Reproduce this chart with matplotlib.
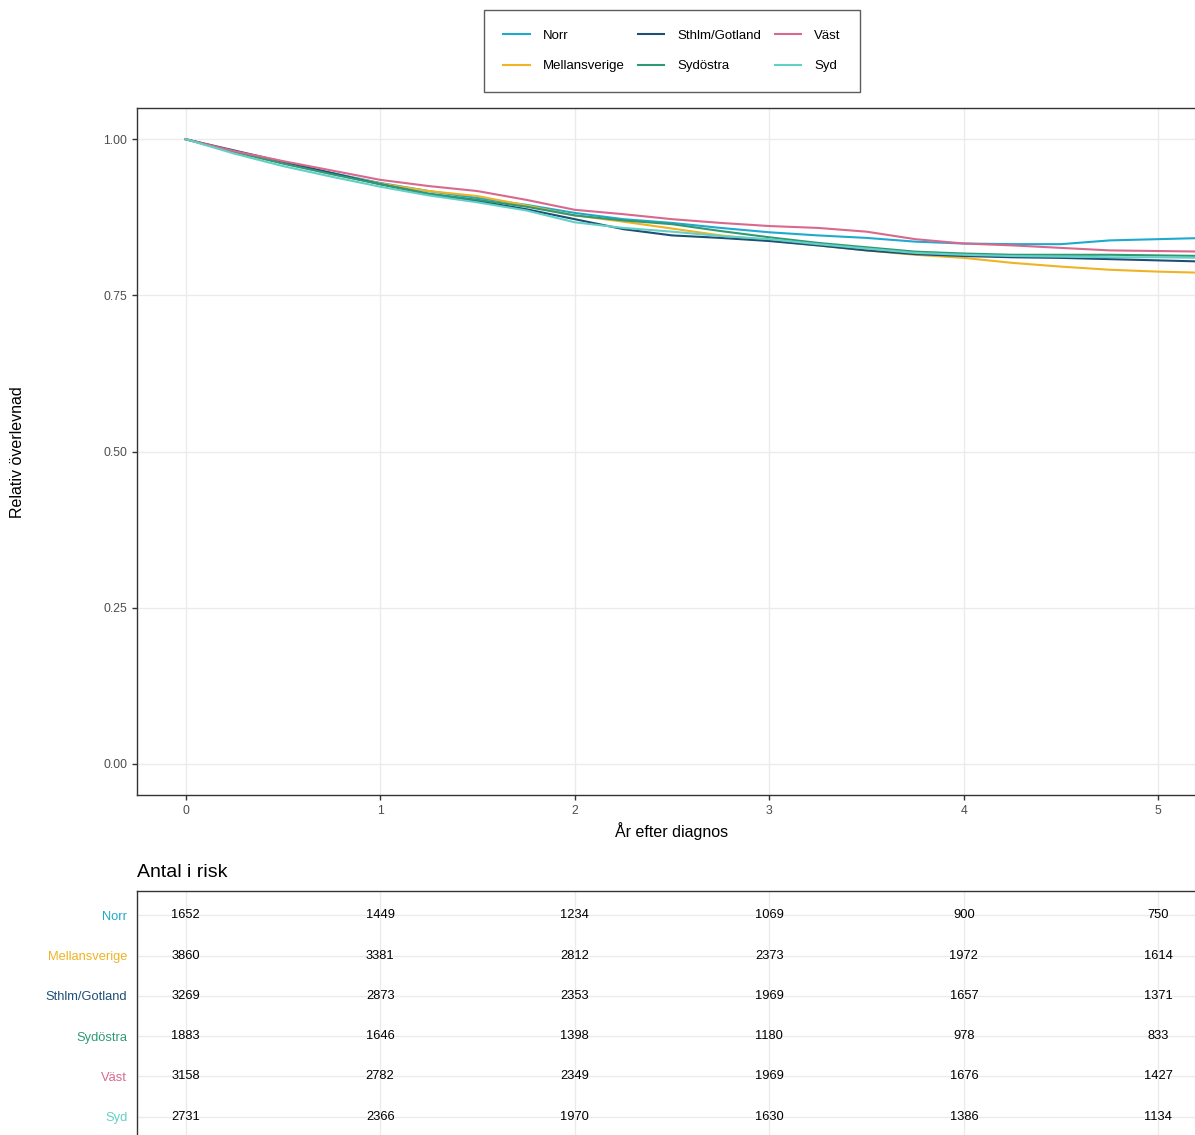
import matplotlib
matplotlib.use("Agg")
import matplotlib.pyplot as plt
from matplotlib.lines import Line2D

plt.rcParams['font.family'] = ['Liberation Sans', 'DejaVu Sans']

# ---------------- data ----------------
regions = ["Norr", "Mellansverige", "Sthlm/Gotland", "Sydöstra", "Väst", "Syd"]
colors = ["#1FA9CF", "#F0B323", "#1D4F77", "#2E9A72", "#D9688D", "#62D0C6"]

years = [0, 0.25, 0.5, 0.75, 1, 1.25, 1.5, 1.75, 2, 2.25, 2.5, 2.75,
         3, 3.25, 3.5, 3.75, 4, 4.25, 4.5, 4.75, 5, 5.25]

surv_norr = [1.0, 0.980, 0.962, 0.946, 0.930, 0.917, 0.906, 0.895, 0.882, 0.872, 0.866, 0.858,
             0.851, 0.846, 0.842, 0.836, 0.833, 0.832, 0.832, 0.838, 0.840, 0.842]
surv_mellan = [1.0, 0.979, 0.962, 0.945, 0.929, 0.917, 0.909, 0.894, 0.878, 0.868, 0.857, 0.846,
               0.838, 0.830, 0.822, 0.815, 0.810, 0.802, 0.796, 0.791, 0.788, 0.786]
surv_sthlm = [1.0, 0.982, 0.964, 0.946, 0.928, 0.912, 0.901, 0.888, 0.872, 0.856, 0.846, 0.842,
              0.837, 0.830, 0.822, 0.816, 0.813, 0.811, 0.810, 0.808, 0.806, 0.804]
surv_sydostra = [1.0, 0.980, 0.961, 0.944, 0.928, 0.913, 0.903, 0.892, 0.878, 0.870, 0.864, 0.853,
                 0.843, 0.834, 0.827, 0.820, 0.817, 0.815, 0.815, 0.815, 0.814, 0.813]
surv_vast = [1.0, 0.981, 0.965, 0.950, 0.935, 0.925, 0.917, 0.903, 0.887, 0.880, 0.872, 0.866,
             0.861, 0.858, 0.852, 0.840, 0.833, 0.830, 0.826, 0.822, 0.821, 0.820]
surv_syd = [1.0, 0.977, 0.957, 0.940, 0.924, 0.910, 0.899, 0.886, 0.867, 0.858, 0.852, 0.845,
            0.840, 0.832, 0.825, 0.818, 0.815, 0.813, 0.812, 0.811, 0.811, 0.810]

survival = [surv_norr, surv_mellan, surv_sthlm, surv_sydostra, surv_vast, surv_syd]

risk_times = [0, 1, 2, 3, 4, 5]
risk_norr = [1652, 1449, 1234, 1069, 900, 750]
risk_mellan = [3860, 3381, 2812, 2373, 1972, 1614]
risk_sthlm = [3269, 2873, 2353, 1969, 1657, 1371]
risk_sydostra = [1883, 1646, 1398, 1180, 978, 833]
risk_vast = [3158, 2782, 2349, 1969, 1676, 1427]
risk_syd = [2731, 2366, 1970, 1630, 1386, 1134]
risk = [risk_norr, risk_mellan, risk_sthlm, risk_sydostra, risk_vast, risk_syd]

y_ticks = [0.0, 0.25, 0.5, 0.75, 1.0]
y_ticklabels = ["0.00", "0.25", "0.50", "0.75", "1.00"]

# ---------------- figure ----------------
W, H = 1195, 1135
fig = plt.figure(figsize=(W / 100, H / 100), dpi=100)

def frac(x0, y0, x1, y1):
    return [x0 / W, 1 - y1 / H, (x1 - x0) / W, (y1 - y0) / H]

grid_c = "#EBEBEB"
border_c = "#333333"
tick_c = "#4D4D4D"

ax = fig.add_axes(frac(137, 108, 1207, 795))
for s, c, name in zip(survival, colors, regions):
    ax.plot(years, s, color=c, lw=1.5, label=name, zorder=3)
ax.set_xlim(-0.25, 5.25)
ax.set_ylim(-0.05, 1.05)
ax.set_xticks(risk_times)
ax.set_yticks(y_ticks)
ax.set_yticklabels(y_ticklabels)
ax.grid(True, color=grid_c, lw=1.0, zorder=0)
ax.set_axisbelow(True)
for sp in ax.spines.values():
    sp.set_color(border_c)
    sp.set_linewidth(1.0)
ax.tick_params(axis="both", colors=border_c, labelcolor=tick_c, labelsize=8.8,
               length=3.5, width=1.0)
ax.set_xlabel("År efter diagnos", fontsize=11.5, color="black", labelpad=4)
fig.text(18 / W, 1 - 452 / H, "Relativ överlevnad", rotation=90, fontsize=11.5,
         ha="center", va="center")

handles = [Line2D([], [], color=c, lw=1.5) for c in colors]
leg = fig.legend(handles, regions, loc="center", bbox_to_anchor=(672 / W, 1 - 51 / H),
                 ncol=3, frameon=True, fancybox=False, fontsize=9.5,
                 handlelength=2.0, columnspacing=1.0, handletextpad=1.0,
                 labelspacing=1.4, borderpad=1.5)
leg.get_frame().set_edgecolor(border_c)
leg.get_frame().set_linewidth(1.0)

# ---------------- risk table ----------------
tab = fig.add_axes(frac(137, 891, 1207, 1141))
n = len(regions)
tab.set_xlim(-0.25, 5.25)
tab.set_ylim(n + 0.6 - 1, -0.6)
for i, (row, c) in enumerate(zip(risk, colors)):
    for t, v in zip(risk_times, row):
        tab.text(t, i, str(v), ha="center", va="center", fontsize=9.3, color="black")
tab.set_yticks(range(n))
tab.set_yticklabels(regions, fontsize=9.3)
for lbl, c in zip(tab.get_yticklabels(), colors):
    lbl.set_color(c)
tab.set_xticks(risk_times)
tab.set_xticklabels([])
tab.tick_params(axis="both", length=0, pad=7)
tab.grid(True, color=grid_c, lw=1.0)
tab.set_axisbelow(True)
for sp in tab.spines.values():
    sp.set_color(border_c)
    sp.set_linewidth(1.0)
tab.set_title("Antal i risk", loc="left", fontsize=14, pad=10)

fig.savefig("out.png", dpi=100)
